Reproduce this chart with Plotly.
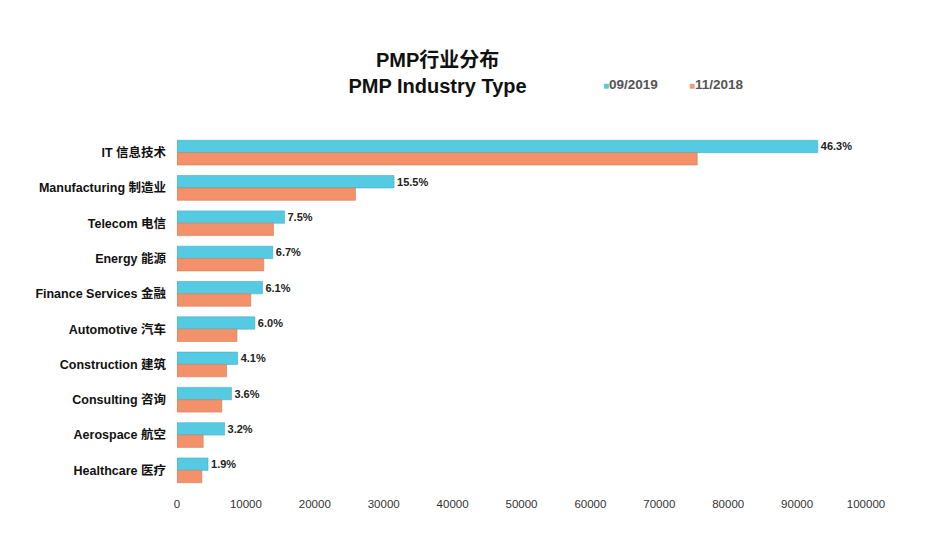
import plotly.graph_objects as go

categories = ["IT 信息技术", "Manufacturing 制造业", "Telecom 电信", "Energy 能源",
              "Finance Services 金融", "Automotive 汽车", "Construction 建筑",
              "Consulting 咨询", "Aerospace 航空", "Healthcare 医疗"]
values_2019 = [93000, 31500, 15600, 13900, 12400, 11300, 8800, 7900, 6900, 4500]
values_2018 = [75500, 25900, 14000, 12600, 10700, 8700, 7200, 6500, 3800, 3600]
pct_2019 = ["46.3%", "15.5%", "7.5%", "6.7%", "6.1%", "6.0%", "4.1%", "3.6%", "3.2%", "1.9%"]
series_names = ["09/2019", "11/2018"]
x_ticks = [0, 10000, 20000, 30000, 40000, 50000, 60000, 70000, 80000, 90000, 100000]

FONT = "Liberation Sans, Arial, Noto Sans CJK SC, sans-serif"
BLUE = "#55CBE3"
ORANGE = "#F3926A"

fig = go.Figure()
fig.add_trace(go.Bar(
    y=categories, x=values_2019, orientation="h", name=series_names[0],
    marker=dict(color=BLUE, line=dict(color="#4AA9C0", width=0.6)),
    text=pct_2019, texttemplate="<b>%{text}</b>", textposition="outside",
    textfont=dict(family=FONT, size=11, color="#222222"), cliponaxis=False,
))
fig.add_trace(go.Bar(
    y=categories, x=values_2018, orientation="h", name=series_names[1],
    marker=dict(color=ORANGE, line=dict(color="#D07A55", width=0.6)),
))

# legend drawn as text labels with coloured squares
legend_items = [(series_names[0], "#5CC8D2", 0.615), (series_names[1], "#E8A07F", 0.74)]
for name, col, xpos in legend_items:
    fig.add_annotation(
        xref="paper", yref="paper", x=xpos, y=1.142, xanchor="left", yanchor="middle",
        showarrow=False,
        text=f"<span style='color:{col};font-size:10px'>■</span><b>{name}</b>",
        font=dict(family=FONT, size=13.5, color="#555555"),
    )

fig.update_layout(
    width=942, height=542,
    paper_bgcolor="white", plot_bgcolor="white",
    margin=dict(l=169, r=84, t=127, b=62, autoexpand=False),
    barmode="group", bargap=0.3, bargroupgap=0,
    showlegend=False,
    font=dict(family=FONT, color="#222222"),
    title=dict(text="<b>PMP行业分布<br>PMP Industry Type</b>", x=0.456, xanchor="center",
               y=0.892, yanchor="middle",
               font=dict(family=FONT, size=20, color="#111111")),
    xaxis=dict(range=[0, 100000], tickvals=x_ticks, ticktext=[str(t) for t in x_ticks],
               showgrid=False, zeroline=False, showline=False, ticks="",
               automargin=False, ticklabelstandoff=7,
               tickfont=dict(family=FONT, size=11.5, color="#333333")),
    yaxis=dict(autorange="reversed", showgrid=False, showline=False, ticks="",
               ticklabelstandoff=10, automargin=False,
               tickfont=dict(family=FONT, size=12.5, color="#111111", weight="bold")),
)

fig.write_html("out.html")
